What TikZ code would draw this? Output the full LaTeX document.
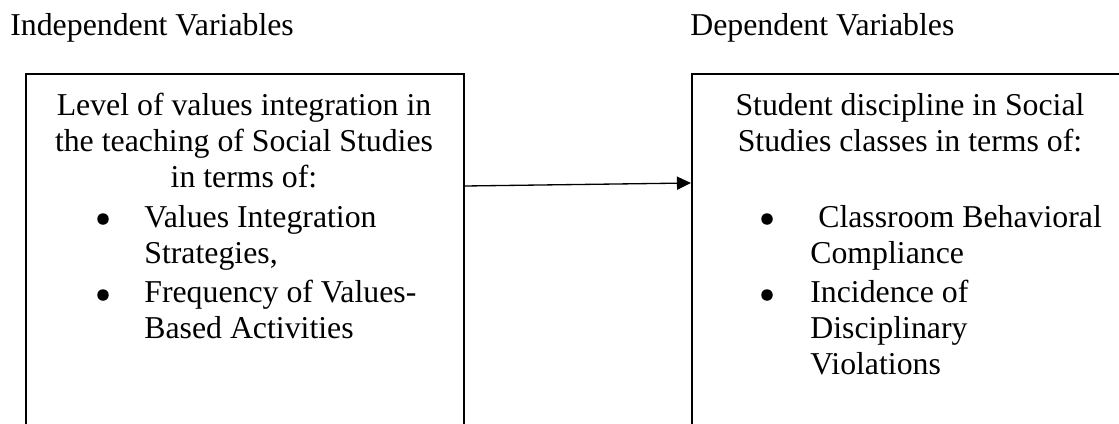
\documentclass[tikz,border=0pt]{standalone}
\usepackage{fontspec}
\setmainfont{Liberation Serif}
\usetikzlibrary{arrows.meta,calc}

\tikzset{
  varbox/.style={draw, line width=1pt, minimum width=8.76cm, minimum height=8cm, inner sep=0pt, anchor=north west},
  vartext/.style={font=\fontsize{18.1}{20.5}\selectfont, inner sep=0pt},
  bulletmark/.style={circle, fill, inner sep=0pt, minimum size=0.23cm},
}

\begin{document}
\begin{tikzpicture}[x=0.02cm, y=-0.02cm]
\useasboundingbox (0,0) rectangle (1119,423);
\clip (0,0) rectangle (1119,423);

% titles
\node[vartext, anchor=base west] (indtitle) at (10,35) {Independent Variables};
\node[vartext, anchor=base west] (deptitle) at (690,35) {Dependent Variables};

% boxes
\node[varbox] (indep) at (25,73) {};
\node[varbox] (dep) at (691,73) {};

% left box
\node[vartext, align=center, anchor=north] (indhead) at (244,93) {Level of values integration in\\the teaching of Social Studies\\in terms of:};
\node[bulletmark] (indbul1) at (103,219) {};
\node[vartext, align=left, anchor=north west] (inditem1) at (144,205) {Values Integration\\Strategies,};
\node[bulletmark] (indbul2) at (103,295) {};
\node[vartext, align=left, anchor=north west] (inditem2) at (144,280) {Frequency of Values-\\Based Activities};

% right box
\node[vartext, align=center, anchor=north] (dephead) at (910,93) {Student discipline in Social\\Studies classes in terms of:};
\node[bulletmark] (depbul1) at (767,219) {};
\node[vartext, align=left, anchor=north west] (depitem1) at (810,205) {\ Classroom Behavioral\\Compliance};
\node[bulletmark] (depbul2) at (767,295) {};
\node[vartext, align=left, anchor=north west] (depitem2) at (810,280) {Incidence of\\Disciplinary\\Violations};

% arrow
\draw[-{Triangle[length=8pt,width=7.5pt]}, line width=0.75pt] ($(indep.north east)+(0,113)$) -- ($(dep.north west)+(0,110)$);
\end{tikzpicture}
\end{document}
